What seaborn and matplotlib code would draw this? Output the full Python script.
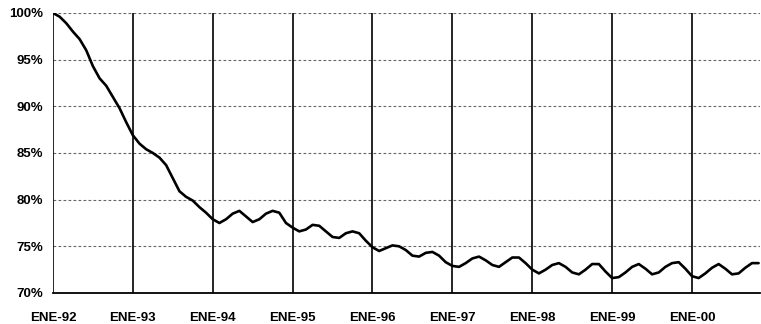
import numpy as np
import pandas as pd
import matplotlib
matplotlib.use("Agg")
import matplotlib.pyplot as plt
import seaborn as sns

# Monthly index, Jan-92 .. Nov-00 (share, %)
values = [
    100.0, 99.6, 98.9, 98.0, 97.2, 96.0, 94.3, 93.0, 92.2, 91.0, 89.8, 88.3,
    86.9, 86.0, 85.4, 85.0, 84.5, 83.7, 82.3, 80.9, 80.3, 79.9, 79.2, 78.6,
    77.9, 77.5, 77.9, 78.5, 78.8, 78.2, 77.6, 77.9, 78.5, 78.8, 78.6, 77.5,
    77.0, 76.6, 76.8, 77.3, 77.2, 76.6, 76.0, 75.9, 76.4, 76.6, 76.4, 75.6,
    74.9, 74.5, 74.8, 75.1, 75.0, 74.6, 74.0, 73.9, 74.3, 74.4, 74.0, 73.3,
    72.9, 72.8, 73.2, 73.7, 73.9, 73.5, 73.0, 72.8, 73.3, 73.8, 73.8, 73.2,
    72.5, 72.1, 72.5, 73.0, 73.2, 72.8, 72.2, 72.0, 72.5, 73.1, 73.1, 72.3,
    71.6, 71.7, 72.2, 72.8, 73.1, 72.6, 72.0, 72.2, 72.8, 73.2, 73.3, 72.6,
    71.8, 71.6, 72.1, 72.7, 73.1, 72.6, 72.0, 72.1, 72.7, 73.2, 73.2,
]
months = list(range(len(values)))
year_labels = ["ENE-92", "ENE-93", "ENE-94", "ENE-95", "ENE-96",
               "ENE-97", "ENE-98", "ENE-99", "ENE-00"]
y_ticks = [70, 75, 80, 85, 90, 95, 100]
y_labels = [f"{v}%" for v in y_ticks]

df = pd.DataFrame({"month": months, "value": values})

sns.set_theme(style="white")
plt.rcParams['font.family'] = ['Liberation Sans', 'DejaVu Sans']

fig = plt.figure(figsize=(7.61, 3.24), dpi=100)
ax = fig.add_axes([0.0696, 0.0957, 0.9290, 0.8643])

# gridlines
for yt in y_ticks[1:]:
    ax.axhline(yt, color="#666666", lw=0.8, ls=(0, (2.5, 2)), zorder=1)
for i in range(len(year_labels)):
    ax.axvline(i * 12, color="black", lw=1.2, zorder=2)

sns.lineplot(data=df, x="month", y="value", ax=ax, color="black",
             linewidth=1.9, zorder=3)

ax.set_xlim(0, 106.2)
ax.set_ylim(70, 100)
ax.set_xticks([i * 12 for i in range(len(year_labels))])
ax.set_xticklabels(year_labels, fontsize=9.5, fontweight="bold", color="black")
ax.set_yticks(y_ticks)
ax.set_yticklabels(y_labels, fontsize=9.5, fontweight="bold", color="black")
ax.tick_params(axis="x", length=3, pad=11, color="black", width=1.2)
ax.tick_params(axis="y", length=0, pad=7)
ax.set_xlabel("")
ax.set_ylabel("")
for s in ["top", "right"]:
    ax.spines[s].set_visible(False)
ax.spines["left"].set_visible(False)
ax.spines["bottom"].set_color("black")
ax.spines["bottom"].set_linewidth(1.3)

fig.savefig("out.png", dpi=100, facecolor="white")
